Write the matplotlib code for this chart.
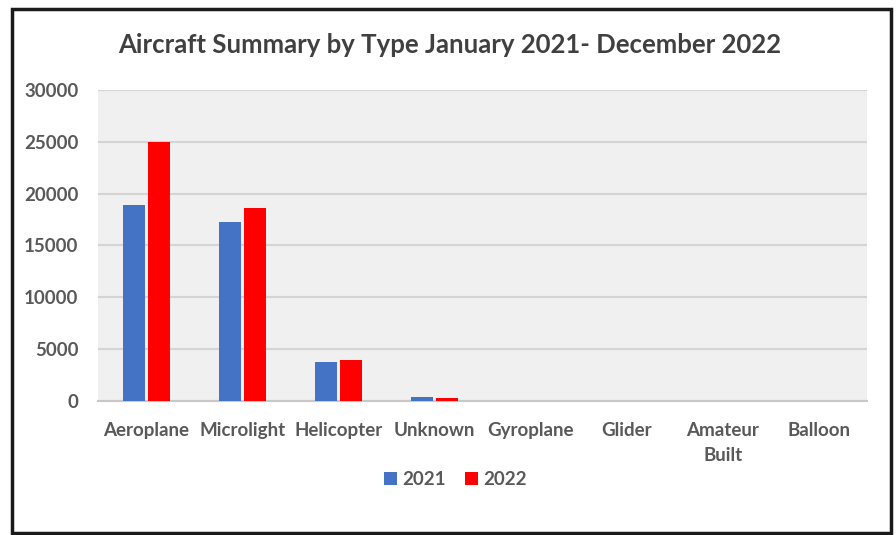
import matplotlib
matplotlib.use("Agg")
import matplotlib.pyplot as plt
import numpy as np
from matplotlib.patches import Rectangle

categories = ["Aeroplane", "Microlight", "Helicopter", "Unknown", "Gyroplane",
              "Glider", "Amateur\nBuilt", "Balloon"]
values_2021 = [18900, 17300, 3800, 350, 20, 10, 5, 2]
values_2022 = [25000, 18600, 3950, 250, 15, 8, 4, 2]
series_labels = ["2021", "2022"]
yticks = [0, 5000, 10000, 15000, 20000, 25000, 30000]

plt.rcParams["font.family"] = ["Lato", "DejaVu Sans"]
text_color = "#595959"

fig = plt.figure(figsize=(8.96, 5.35), dpi=100)
fig.patch.set_facecolor("white")

ax = fig.add_axes([0.1094, 0.2505, 0.858, 0.5813])
ax.set_facecolor("#f0f0f0")

x = np.arange(len(categories))
w = 0.23
gap = 0.03
ax.bar(x - (w + gap) / 2, values_2021, width=w, color="#4472C4", label=series_labels[0], zorder=3)
ax.bar(x + (w + gap) / 2, values_2022, width=w, color="#FF0000", label=series_labels[1], zorder=3)

ax.set_xlim(-0.5, len(categories) - 0.5)
ax.set_ylim(0, 30000)
ax.set_yticks(yticks)
ax.set_yticklabels([str(v) for v in yticks])
ax.yaxis.grid(True, color="#d4d4d4", linewidth=1.5, zorder=0)
ax.set_axisbelow(True)
for s in ["top", "right", "left"]:
    ax.spines[s].set_visible(False)
ax.spines["bottom"].set_color("#c8c8c8")
ax.spines["bottom"].set_linewidth(1.5)
ax.tick_params(axis="both", length=0, colors=text_color, labelsize=13.5)
ax.tick_params(axis="y", pad=14)
ax.tick_params(axis="x", pad=15)
ax.set_xticks(x)
ax.set_xticklabels(categories, va="top", linespacing=1.6)
for lbl in ax.get_xticklabels() + ax.get_yticklabels():
    lbl.set_fontweight("bold")
    lbl.set_color(text_color)

fig.text(0.502, 0.915, "Aircraft Summary by Type January 2021- December 2022",
         ha="center", va="center", fontsize=18.5, fontweight="bold", color="#404040")

leg = fig.legend(loc="center", bbox_to_anchor=(0.508, 0.104), ncol=2, frameon=False,
                 handlelength=0.7, handleheight=0.7, handletextpad=0.3, columnspacing=1.0,
                 prop={"size": 13.5, "weight": "bold"})
for t in leg.get_texts():
    t.set_color(text_color)

# outer frame around the chart
fig.add_artist(Rectangle((0.013, 0.004), 0.981, 0.979, transform=fig.transFigure,
                         fill=False, edgecolor="#1a1a1a", linewidth=2.5))

fig.savefig("out.png", dpi=100)
